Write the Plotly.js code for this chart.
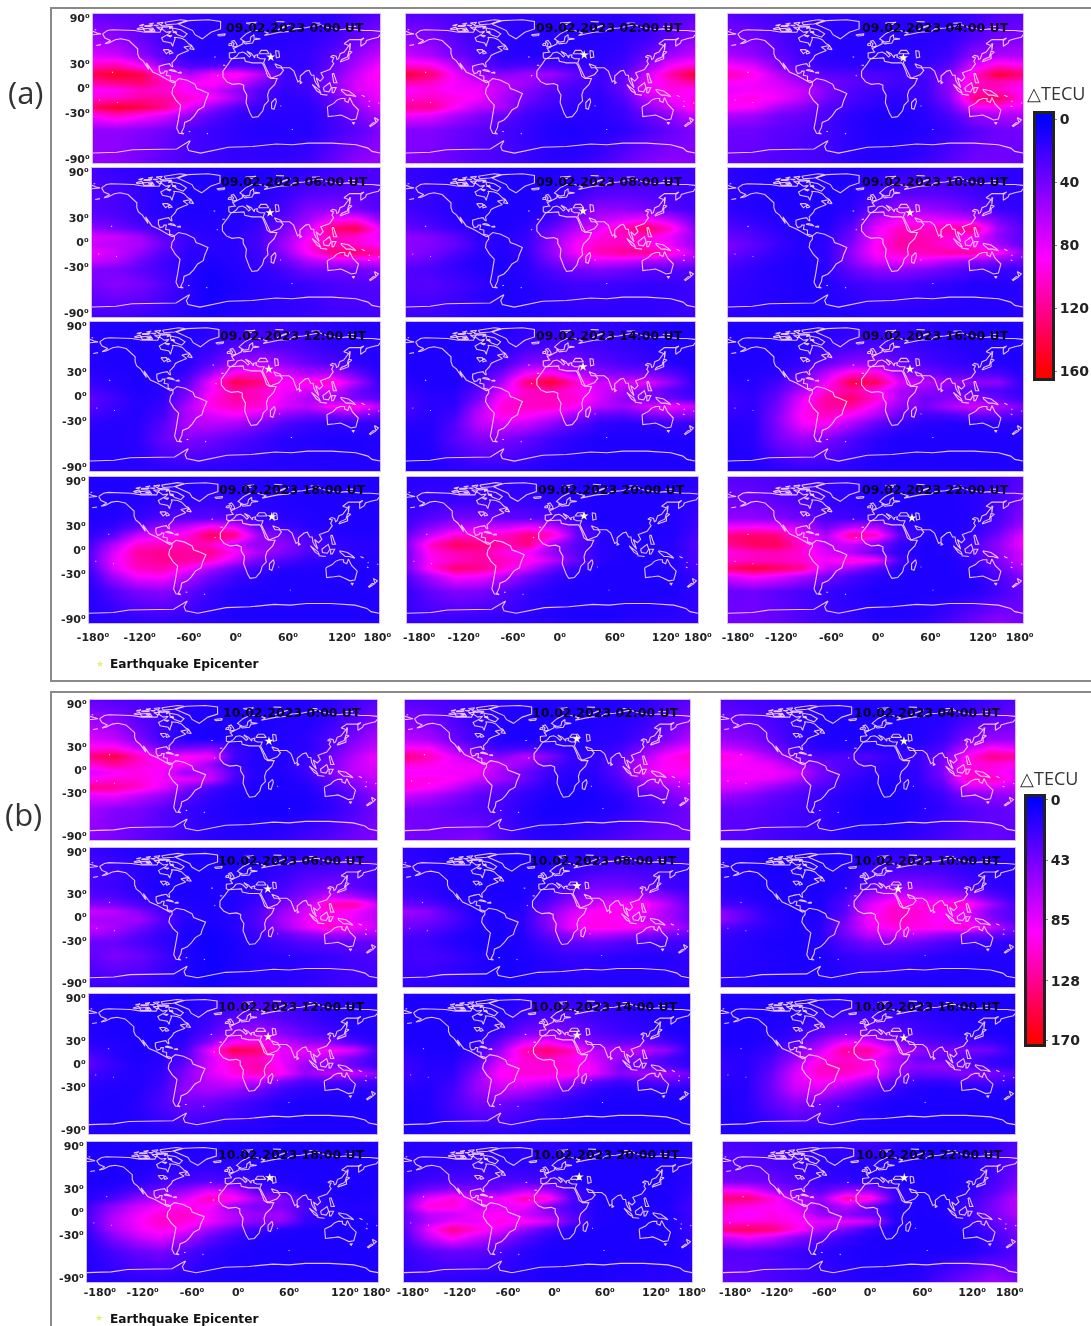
<!DOCTYPE html>
<html><head><meta charset="utf-8">
<script src="https://cdn.plot.ly/plotly-3.0.1.min.js"></script>
<style>html,body{margin:0;padding:0;background:#fff}#chart{width:1091px;height:1326px;filter:blur(0.6px)}</style>
</head><body><div id="chart"></div>
<script>
// Grid of each map. Rows run north to south.
const lons = [-180,-150,-120,-90,-60,-30,0,30,60,90,120,150,180];
const lats = [90,60,40,28,18,8,-2,-12,-22,-32,-50,-90];

const a00=[[35,30,30,25,18,15,15,15,15,15,15,22,30],[55,50,35,22,15,12,12,12,14,15,22,35,50],[75,70,50,28,15,12,12,14,16,18,30,50,70],[105,110,85,45,25,25,28,22,16,18,35,60,85],[140,150,140,85,60,85,95,65,22,22,40,70,95],[115,125,130,105,85,90,75,45,20,22,45,75,90],[85,90,105,100,85,75,50,28,18,22,45,75,85],[100,105,115,115,100,85,55,25,15,18,35,60,85],[135,150,140,120,80,50,28,18,15,15,28,50,75],[90,105,90,75,50,30,18,15,14,14,22,40,60],[50,50,45,38,25,20,15,12,12,12,22,30,45],[50,48,40,30,25,20,18,18,18,22,35,50,55]];
const a02=[[30,28,25,20,18,15,15,15,15,15,18,25,32],[50,45,30,20,15,12,12,12,12,15,22,35,50],[70,60,40,25,15,12,12,14,14,18,35,55,70],[100,95,65,35,22,25,25,20,16,22,50,85,100],[145,130,85,55,45,55,55,35,20,32,70,115,150],[115,105,85,75,65,55,40,28,20,35,80,100,115],[85,95,85,85,65,45,30,22,18,35,80,95,85],[100,105,95,85,60,40,25,20,15,28,65,85,95],[120,120,90,65,60,30,20,15,15,22,50,70,95],[85,80,60,45,35,22,15,14,14,20,35,50,70],[45,45,38,32,25,18,12,10,12,15,25,35,45],[45,42,35,28,25,20,15,15,22,35,45,50,45]];
const a04=[[30,25,22,18,15,15,15,15,15,15,20,28,30],[45,40,28,18,14,12,12,12,14,16,30,40,45],[60,50,35,22,14,12,12,14,15,22,50,60,60],[85,75,45,25,18,16,16,16,18,30,75,100,90],[110,95,65,40,30,28,28,22,25,45,100,145,130],[90,85,75,55,40,32,28,22,22,50,105,110,95],[80,85,80,70,45,28,22,18,22,50,110,105,85],[90,95,85,65,40,25,18,15,20,45,125,135,90],[90,85,60,45,30,20,14,12,15,35,85,85,80],[60,55,40,35,25,15,10,10,14,25,50,60,60],[38,38,32,28,22,15,10,10,12,18,30,38,40],[35,32,28,25,22,15,12,14,20,30,40,40,35]];
const a06=[[22,18,15,12,10,10,10,10,12,15,20,25,25],[28,25,18,12,10,10,10,12,18,28,30,30,28],[28,25,18,12,10,10,10,14,25,45,50,40,30],[35,30,20,14,12,12,12,16,32,55,85,90,50],[50,40,28,18,14,12,12,22,40,70,130,140,80],[75,70,55,28,18,14,14,25,50,85,110,100,80],[70,65,60,35,18,14,14,25,55,95,110,100,85],[80,70,50,28,16,12,14,22,50,90,125,130,115],[70,60,38,22,14,10,14,20,35,60,70,70,75],[45,42,32,22,12,8,12,16,25,40,40,40,45],[40,48,42,28,14,6,10,14,16,20,25,28,30],[22,22,20,16,12,8,12,14,16,18,22,22,22]];
const a08=[[18,15,12,10,10,10,10,12,14,18,20,20,20],[20,18,14,10,10,10,12,18,28,30,28,24,20],[22,18,12,10,10,10,15,30,50,50,42,30,22],[28,22,14,10,10,12,22,45,65,75,85,65,35],[35,28,18,12,10,15,35,60,80,110,135,100,45],[50,45,32,15,12,18,45,75,95,105,100,80,50],[48,45,35,18,12,18,50,85,105,105,95,80,50],[50,42,28,15,12,18,50,85,110,120,120,100,65],[40,32,20,12,10,15,40,60,75,70,60,55,50],[28,25,18,12,10,15,28,40,45,40,32,30,28],[28,30,25,18,10,12,18,22,22,20,18,18,22],[20,20,16,12,10,10,12,14,14,14,15,18,20]];
const a10=[[15,12,10,10,10,10,12,15,18,20,18,15,15],[15,12,10,10,10,12,20,30,30,28,22,16,15],[16,12,10,10,10,15,35,55,55,48,35,20,16],[22,16,12,10,10,22,65,85,80,75,65,40,22],[28,22,14,10,12,32,80,105,100,115,125,55,28],[35,28,18,10,14,38,85,110,110,100,85,50,30],[42,32,20,12,16,45,90,115,110,95,85,55,32],[38,28,16,12,16,50,90,105,110,115,115,90,50],[28,20,14,10,16,45,75,80,75,60,50,45,35],[22,16,12,10,14,35,50,50,45,35,25,20,20],[18,15,12,10,12,20,25,25,20,16,12,12,14],[15,14,12,10,10,10,12,12,12,12,12,12,14]];
const a12=[[12,10,10,10,10,12,15,18,18,16,14,12,12],[12,10,10,10,12,18,28,30,28,22,16,12,12],[12,10,10,10,14,30,55,62,50,35,28,16,12],[14,12,10,10,20,55,95,100,75,60,60,35,14],[18,14,10,12,30,85,140,125,85,95,105,60,18],[25,16,10,14,40,85,115,105,85,75,75,40,22],[32,22,12,16,48,95,115,105,80,60,55,40,30],[30,20,12,20,60,95,105,100,75,65,90,95,65],[22,16,12,24,60,75,85,70,48,38,40,45,35],[16,12,14,30,62,65,60,45,28,20,16,18,16],[12,12,15,35,45,40,30,22,14,12,10,10,12],[12,12,12,14,14,12,12,12,12,12,12,12,12]];
const a14=[[10,10,10,10,10,12,14,15,15,14,12,10,10],[10,10,10,10,14,22,25,25,22,18,14,10,10],[10,10,10,12,22,45,50,42,32,25,20,12,10],[10,10,10,14,40,85,95,65,48,42,40,30,12],[14,10,10,20,60,125,150,105,70,75,80,50,14],[18,12,12,30,75,105,110,95,75,60,50,30,16],[22,14,14,40,90,105,105,100,75,50,40,35,22],[24,14,16,55,100,105,105,90,65,55,75,85,70],[20,14,22,65,95,90,75,55,32,30,40,50,45],[14,12,28,65,75,70,50,32,18,14,16,20,18],[10,12,30,45,45,35,22,14,10,10,10,10,10],[10,10,12,14,14,12,10,10,10,10,10,10,10]];
const a16=[[10,10,10,10,10,12,14,15,14,12,10,10,10],[10,10,10,12,18,24,25,22,18,14,12,10,10],[10,10,12,18,35,50,50,35,25,20,14,12,10],[10,12,14,30,65,100,100,55,40,30,28,25,12],[14,12,22,45,85,140,135,75,65,55,50,50,15],[18,14,30,60,100,115,95,60,50,40,30,28,16],[22,16,35,80,115,130,100,60,38,45,50,35,20],[20,16,40,85,115,115,80,50,40,60,75,60,40],[16,16,45,90,105,85,60,35,22,25,35,35,25],[12,14,45,85,90,60,35,20,14,12,12,14,14],[10,14,40,55,45,28,15,10,10,10,10,10,10],[10,10,12,14,14,12,10,10,10,10,10,10,10]];
const a18=[[10,10,10,10,10,12,12,12,10,10,10,10,10],[10,10,12,14,16,18,16,14,12,10,10,10,10],[10,12,18,28,30,32,30,18,14,12,10,10,10],[12,18,35,55,70,95,85,35,22,14,12,10,10],[15,30,70,85,95,135,125,55,40,22,14,12,12],[22,60,100,105,110,105,70,50,50,30,18,14,14],[28,75,115,120,115,120,90,60,45,28,18,14,14],[28,80,110,120,115,105,70,40,28,18,14,12,12],[22,75,105,110,90,60,35,22,14,12,10,10,12],[16,55,85,90,65,38,22,14,10,10,10,10,12],[12,28,42,48,35,20,12,10,10,10,10,10,12],[12,12,14,14,14,12,10,10,10,10,10,10,10]];
const a20=[[14,14,14,14,14,14,14,12,10,10,10,10,14],[14,18,20,20,20,18,15,12,10,10,10,12,16],[20,30,40,40,35,32,28,14,10,10,10,12,20],[25,48,65,70,70,85,70,30,12,10,10,12,22],[35,70,100,100,105,125,105,35,14,10,10,12,25],[45,105,135,125,110,125,55,30,14,10,10,14,30],[40,95,110,115,95,85,50,30,14,10,10,12,28],[42,90,105,115,105,95,65,35,14,10,10,12,28],[40,95,130,120,100,70,35,18,10,10,10,12,26],[28,60,90,85,65,38,20,12,10,10,10,10,20],[18,35,45,42,30,18,12,10,10,10,10,10,16],[18,18,16,14,14,14,12,10,10,12,14,16,18]];
const a22=[[30,28,25,22,18,15,14,12,12,12,14,20,30],[38,38,32,25,18,15,12,10,10,10,14,22,38],[50,50,45,38,25,22,18,12,10,10,12,25,48],[85,90,85,65,40,65,65,20,12,10,14,30,60],[125,130,125,85,60,120,105,30,12,10,18,40,80],[120,135,135,100,65,70,45,18,10,12,25,50,85],[95,105,110,100,75,60,35,15,10,12,25,48,75],[100,105,105,100,85,100,85,22,10,10,20,42,75],[130,145,135,120,70,55,30,12,10,10,15,35,60],[75,90,80,60,40,25,15,10,10,10,12,25,48],[35,38,32,25,18,14,10,10,10,10,12,22,35],[40,40,35,28,22,18,12,12,15,25,40,50,40]];

const b00=[[35,30,28,22,15,12,12,12,12,12,14,22,30],[60,55,35,20,12,10,10,10,12,12,20,32,50],[80,72,48,22,12,10,10,10,12,15,28,45,65],[100,100,75,40,45,50,22,12,12,14,30,55,75],[135,150,115,80,95,90,25,12,12,18,38,65,90],[105,125,105,95,90,55,18,12,12,20,42,70,85],[80,90,100,90,55,70,30,12,12,20,45,70,80],[95,105,105,90,85,75,25,12,10,16,35,55,75],[130,125,110,85,50,28,14,10,10,12,25,42,65],[85,90,70,55,32,18,12,10,10,10,18,32,52],[60,48,45,32,20,14,10,8,8,10,16,28,42],[50,45,35,30,22,16,14,15,18,25,32,42,48]];
const b02=[[32,28,25,20,15,12,12,12,12,12,15,24,32],[50,45,30,18,12,10,10,10,12,14,20,32,50],[70,62,40,22,12,10,10,12,14,16,28,45,68],[95,95,60,35,22,25,22,14,14,22,45,70,90],[135,115,85,60,45,70,50,20,16,30,60,95,110],[105,100,90,85,70,55,30,18,18,35,75,95,100],[90,90,90,90,60,40,22,14,16,35,80,95,95],[100,100,95,75,60,40,18,12,14,28,60,75,85],[105,95,75,50,38,25,14,10,12,22,45,55,70],[75,65,50,35,28,18,10,8,10,16,30,42,60],[45,42,35,30,25,14,8,8,10,14,24,32,42],[42,42,45,50,30,18,14,18,24,30,38,42,42]];
const b04=[[30,25,22,18,14,12,12,12,12,12,15,22,30],[42,38,28,18,12,10,10,10,12,14,28,38,42],[55,50,35,20,12,10,10,12,12,20,45,55,55],[75,65,45,25,15,14,14,14,16,28,70,95,85],[105,90,65,40,28,30,30,18,20,40,95,130,125],[95,90,85,60,40,28,22,16,20,45,100,105,95],[85,90,90,80,45,28,18,14,18,45,105,100,85],[90,90,85,65,40,22,14,12,18,40,105,115,85],[80,75,55,40,28,18,12,10,14,30,75,80,70],[58,50,38,30,20,14,10,8,12,22,45,52,55],[35,35,30,25,20,12,8,8,12,18,28,35,38],[32,30,26,22,20,14,12,14,20,26,35,38,32]];
const b06=[[20,16,12,10,10,10,10,10,12,14,18,22,22],[25,22,15,10,10,10,10,12,18,25,28,28,25],[25,22,15,10,10,10,12,15,25,40,48,35,25],[32,28,18,12,10,10,12,18,32,50,75,60,40],[48,42,28,15,12,10,12,22,42,65,115,125,75],[75,70,50,25,14,10,14,28,55,80,105,90,70],[62,60,60,32,14,10,14,30,60,85,100,85,70],[72,62,45,25,12,8,14,28,55,85,110,95,75],[60,50,32,18,10,6,12,22,35,50,60,60,60],[38,38,28,18,10,6,10,16,25,32,35,35,38],[35,45,40,25,12,5,10,14,14,16,20,25,28],[20,20,18,14,10,6,10,12,14,16,20,22,20]];
const b08=[[16,14,10,10,10,10,10,12,14,16,18,18,18],[18,16,12,10,10,10,12,18,25,28,25,20,18],[20,16,12,10,10,10,14,28,45,45,40,25,20],[25,20,12,10,10,10,22,42,60,65,65,50,28],[38,32,18,10,10,12,32,58,75,90,100,70,35],[60,52,28,12,10,14,42,75,95,100,90,65,40],[48,45,30,14,10,16,48,85,100,95,80,65,40],[40,35,24,12,10,14,45,85,100,100,90,75,50],[30,26,16,10,8,12,35,55,70,60,50,42,38],[24,22,14,10,8,12,24,35,38,32,24,24,24],[24,26,22,14,8,10,15,20,18,15,14,14,18],[16,16,14,12,8,8,10,12,12,12,12,14,16]];
const b10=[[14,12,10,10,10,10,12,14,16,18,16,14,14],[14,12,10,10,10,12,20,28,28,25,18,14,14],[14,12,10,10,10,14,32,52,52,45,30,18,14],[18,14,10,10,10,22,60,80,78,70,60,35,18],[25,20,12,10,10,30,78,105,100,105,110,60,25],[50,32,14,10,10,32,85,110,105,95,85,45,28],[55,32,16,10,12,40,90,110,105,90,85,50,28],[30,22,14,10,14,45,85,100,100,100,110,75,40],[22,16,12,10,14,40,70,75,68,55,45,40,30],[18,14,10,10,12,30,45,45,40,30,22,18,16],[16,14,12,10,10,18,22,22,18,14,12,12,12],[14,12,10,10,10,10,10,10,10,10,10,10,12]];
const b12=[[12,10,10,10,10,12,16,20,20,16,14,12,12],[12,10,10,10,12,20,32,35,30,22,15,12,12],[12,10,10,10,14,30,55,65,50,35,25,14,12],[14,12,10,10,18,50,95,105,75,55,50,30,14],[20,15,10,12,25,85,150,140,85,85,95,80,25],[32,16,10,14,30,75,110,115,85,70,65,40,20],[32,20,12,16,40,80,105,120,90,55,50,38,22],[25,16,12,18,48,80,100,115,95,55,70,75,50],[18,14,12,20,50,70,80,70,45,28,30,30,25],[14,12,12,24,55,62,58,42,24,16,14,14,14],[12,10,14,28,40,38,28,20,12,10,10,10,10],[12,12,12,12,14,12,12,12,10,10,10,10,12]];
const b14=[[10,10,10,10,10,12,14,16,16,14,12,10,10],[10,10,10,10,12,22,28,28,22,18,14,10,10],[10,10,10,12,20,42,52,45,32,24,20,12,10],[10,10,10,14,38,80,95,70,45,38,38,28,12],[14,10,10,18,55,115,140,115,65,65,70,55,14],[18,12,12,28,70,105,110,100,75,55,45,25,14],[22,14,14,38,85,105,105,105,85,45,38,30,18],[22,14,16,48,95,105,105,100,85,50,60,60,40],[18,14,20,55,85,90,80,62,35,25,30,35,28],[14,12,24,55,72,68,50,32,18,12,14,14,14],[10,12,26,42,42,32,22,14,10,10,10,10,10],[10,10,12,14,14,12,10,10,10,10,10,10,10]];
const b16=[[10,10,10,10,10,12,14,14,14,12,10,10,10],[10,10,10,12,18,24,24,22,18,14,12,10,10],[10,10,12,18,35,48,45,35,25,20,14,10,10],[10,10,14,28,55,90,85,50,35,28,26,22,10],[14,12,20,42,75,125,125,80,55,45,45,40,14],[16,14,26,55,95,110,100,65,40,35,30,20,14],[18,14,30,70,110,115,105,65,50,55,35,22,16],[18,14,35,80,110,110,95,55,40,40,50,45,30],[14,14,38,80,95,85,60,35,20,20,28,28,20],[12,14,38,75,80,58,35,20,12,10,12,12,12],[10,14,32,50,40,26,15,10,10,10,10,10,10],[10,10,12,14,14,12,10,10,10,10,10,10,10]];
const b18=[[10,10,10,10,10,10,10,10,10,10,10,10,10],[10,10,10,12,14,16,14,12,10,10,10,10,10],[10,10,14,22,26,30,26,16,12,10,10,10,10],[12,16,28,42,52,80,70,30,22,12,10,10,10],[14,25,50,65,80,115,100,60,50,22,12,10,12],[22,50,75,90,100,95,55,45,45,28,14,12,14],[25,60,85,105,110,90,65,55,60,22,12,10,12],[25,65,90,110,105,90,65,50,55,20,12,10,10],[20,60,85,100,90,60,35,22,14,10,10,10,10],[15,45,70,85,65,38,20,12,10,10,10,10,10],[12,25,38,45,30,18,12,10,10,10,10,10,10],[12,12,14,14,12,10,10,10,10,10,10,10,10]];
const b20=[[14,14,14,14,12,14,18,14,10,10,10,10,14],[14,16,18,18,16,16,14,12,10,10,10,10,14],[18,24,28,30,30,28,24,12,10,10,10,10,16],[24,45,55,45,45,70,60,22,10,10,10,10,18],[40,85,105,80,90,115,105,30,12,10,10,10,22],[45,105,105,75,85,90,45,25,12,10,10,12,25],[35,70,75,90,95,75,55,30,12,10,10,10,22],[35,65,85,85,100,95,80,35,12,10,10,10,22],[30,85,130,105,85,55,28,14,10,10,10,10,20],[25,70,100,75,55,32,16,10,10,10,10,10,18],[18,30,38,35,26,15,10,10,10,10,10,10,14],[16,16,14,12,12,12,10,10,10,12,14,16,16]];
const b22=[[28,25,22,20,16,20,25,16,10,10,14,20,30],[32,32,28,22,16,14,12,10,10,10,14,22,35],[42,42,38,30,20,18,14,10,10,10,12,25,45],[95,90,60,38,32,55,55,18,10,10,14,30,55],[135,135,105,65,55,120,105,22,10,10,18,40,70],[110,100,95,80,45,70,35,14,10,12,22,45,70],[100,90,100,90,55,50,38,14,10,12,22,42,65],[100,100,105,95,85,85,75,14,10,10,18,35,55],[135,145,135,100,65,45,18,10,10,10,14,28,48],[75,90,75,50,35,20,12,10,10,10,10,22,40],[30,32,28,22,16,12,10,10,10,10,12,20,30],[38,35,28,24,20,15,12,12,15,30,45,60,45]];

const gridsA = [a00,a02,a04,a06,a08,a10,a12,a14,a16,a18,a20,a22];
const gridsB = [b00,b02,b04,b06,b08,b10,b12,b14,b16,b18,b20,b22];
const hours = ['0:00','02:00','04:00','06:00','08:00','10:00','12:00','14:00','16:00','18:00','20:00','22:00'];
const dates = ['09.02.2023','10.02.2023'];

// Epicentre as it falls in each panel
const epiLonA = [43,42,34,42.5,40.5,42,42,40.5,42,47,39,44.5];
const epiLatA = [38,40.5,37,36,38,36,33,36,33,41,42,39.5];
const epiLonB = [44.5,37,44,43,39,37,44,38,44,46,39,42];
const epiLatB = [37,40,37,37,41,37,35,37,33.5,44,45,44];

// Simplified coastlines [lon,lat]
const coasts = [
 [[-168,66],[-162,70],[-156,71],[-141,70],[-128,70],[-115,68],[-108,68],[-96,68],[-94,72],[-88,68],[-82,69],[-85,66],[-94,61],[-92,57],[-82,55],[-80,51],[-79,55],[-77,60],[-78,62],[-70,61],[-65,59],[-60,54],[-56,52],[-66,50],[-60,46],[-66,44],[-70,42],[-74,40],[-76,36],[-81,31],[-80,26],[-82,27],[-84,30],[-90,29],[-97,27],[-97,22],[-95,18],[-91,19],[-90,21],[-87,21],[-88,16],[-83,15],[-83,10],[-79,9],[-77,8],[-80,7],[-85,10],[-92,14],[-96,16],[-105,20],[-109,25],[-113,31],[-110,23],[-115,30],[-117,33],[-122,37],[-124,42],[-124,48],[-130,54],[-135,58],[-145,60],[-152,59],[-160,55],[-165,54],[-158,58],[-165,61],[-168,66]],
 [[-77,8],[-72,12],[-62,10],[-52,5],[-50,0],[-44,-2],[-35,-6],[-39,-15],[-41,-22],[-48,-26],[-53,-33],[-58,-38],[-65,-41],[-66,-47],[-69,-53],[-66,-55],[-72,-54],[-75,-48],[-73,-38],[-70,-20],[-76,-14],[-81,-6],[-80,0],[-77,4],[-77,8]],
 [[-73,78],[-60,82],[-35,83],[-20,81],[-20,72],[-32,68],[-43,60],[-52,65],[-55,70],[-68,76],[-73,78]],
 [[-80,73],[-70,71],[-62,66],[-66,62],[-74,65],[-80,70],[-80,73]],
 [[-117,72],[-105,73],[-102,69],[-115,69],[-117,72]],
 [[-90,80],[-70,83],[-62,82],[-75,78],[-88,77],[-90,80]],
 [[-125,72],[-118,74],[-116,72],[-122,71],[-125,72]],
 [[-95,76],[-80,75],[-90,74],[-95,76]],
 [[-115,76],[-105,76],[-108,75],[-115,75],[-115,76]],
 [[-100,79],[-92,80],[-95,77],[-100,79]],
 [[-100,74],[-92,74],[-95,71],[-100,74]],
 [[-122,76],[-116,77.5],[-118,76],[-122,76]],
 [[-104,76.5],[-98,76.5],[-100,75.5],[-104,76.5]],
 [[-110,78],[-104,79],[-106,77.5],[-110,78]],
 [[-87,64],[-81,64],[-83,62.5],[-87,64]],
 [[-80,68],[-76,69],[-75,67],[-80,68]],
 [[-84,74],[-80,73.5],[-84,72.5],[-84,74]],
 [[-110,71],[-104,71.5],[-106,70],[-110,71]],
 [[-59,48],[-53,47],[-56,51.5],[-59,48]],
 [[-85,22],[-75,20],[-78,22],[-82,23],[-85,22]],
 [[-74,19],[-69,18.5],[-70,19.8],[-74,19]],
 [[-92,47],[-85,47],[-84,42],[-80,43],[-83,46],[-88,42],[-92,47]],
 [[-9,37],[-9,43],[-1,44],[-4,48],[2,51],[8,54],[8,57],[11,54],[20,55],[22,59],[30,60],[22,61],[22,65],[18,62],[17,57],[12,56],[8,58],[5,60],[12,66],[20,70],[30,70],[40,67],[35,64],[44,66],[54,68],[68,69],[73,72],[85,73],[105,77],[113,74],[130,71],[140,72],[160,70],[170,70],[180,69]],
 [[-180,69],[-175,67],[-170,66],[-178,65],[-180,65]],
 [[180,65],[178,62],[170,60],[163,58],[162,55],[156,51],[156,58],[160,61],[155,59],[142,59],[135,54],[141,52],[135,44],[130,42],[128,36],[126,35],[125,39],[121,40],[118,38],[122,37],[120,33],[122,30],[117,23],[110,21],[106,19],[109,13],[105,9],[100,13],[103,4],[104,1],[100,6],[98,10],[97,16],[94,16],[91,22],[87,21],[80,15],[80,10],[77,8],[73,17],[72,21],[67,25],[57,25],[56,27],[50,30],[48,30],[51,25],[56,25],[59,22],[55,17],[45,13],[43,13],[39,21],[35,28],[34,31],[36,36],[30,36],[26,38],[27,41],[23,40],[23,37],[19,42],[13,45],[18,40],[16,38],[12,42],[8,44],[3,43],[0,39],[-5,36],[-9,37]],
 [[28,42],[31,46],[38,46],[41,42],[35,42],[28,42]],
 [[49,46],[53,45],[54,38],[50,37],[49,46]],
 [[-6,36],[10,37],[11,33],[20,31],[32,31],[34,28],[37,21],[39,15],[43,12],[51,12],[48,5],[41,-2],[39,-8],[40,-15],[35,-20],[33,-27],[27,-34],[20,-35],[17,-30],[12,-17],[13,-8],[9,-1],[9,4],[4,6],[-5,5],[-12,8],[-17,14],[-17,21],[-10,30],[-6,36]],
 [[49,-12],[50,-16],[47,-25],[44,-24],[44,-17],[49,-12]],
 [[-5,50],[1,51],[0,54],[-3,58],[-6,57],[-3,54],[-5,50]],
 [[-10,52],[-6,52],[-6,55],[-9,54],[-10,52]],
 [[-24,65],[-14,66],[-15,64],[-22,63.5],[-24,65]],
 [[12,79],[25,80],[20,77],[12,79]],
 [[52,71],[68,77],[60,75],[52,71]],
 [[50,81],[60,80.5]],[[95,79],[105,79]],[[140,75],[150,75]],[[-178,71],[-176,71]],
 [[-156,20],[-155,19]],[[-176,52],[-170,53]],[[-60,-52],[-58,-52]],[[-37,-54],[-36,-55]],[[-17,28],[-14,28]],[[-28,38],[-26,38]],[[-24,16],[-23,15]],
 [[55,-21],[56,-21]],[[70,-49],[70,-50]],[[178,-17],[179,-18]],[[165,-21],[167,-22]],[[157,-8],[161,-10]],[[166,-15],[167,-16]],[[-150,-17],[-149,-17]],[[-172,-14],[-171,-14]],
 [[130,32],[136,34],[141,36],[141,41],[145,44],[141,45],[139,38],[132,35],[130,32]],
 [[142,46],[143,54],[142,54],[142,46]],
 [[120,18],[122,18],[124,12],[126,7],[122,7],[121,13],[120,18]],
 [[109,1],[117,7],[119,1],[116,-4],[110,-3],[109,1]],
 [[95,5],[104,-2],[106,-6],[101,-3],[95,5]],
 [[105,-7],[114,-8],[110,-8],[105,-7]],
 [[120,1],[125,1],[122,-5],[120,-5],[120,1]],
 [[131,-1],[141,-3],[148,-8],[150,-10],[143,-8],[138,-8],[132,-3],[131,-1]],
 [[114,-22],[122,-18],[126,-14],[131,-12],[136,-12],[136,-15],[140,-17],[142,-11],[146,-19],[153,-26],[150,-37],[144,-38],[138,-35],[131,-32],[124,-33],[115,-34],[114,-22]],
 [[145,-41],[148,-41],[147,-43],[145,-41]],
 [[173,-35],[178,-38],[175,-41],[173,-35]],
 [[172,-41],[174,-42],[168,-46],[167,-45],[172,-41]],
 [[80,9],[82,7],[80,6],[80,9]],
 [[-180,-78],[-150,-77],[-130,-74],[-100,-73],[-75,-73],[-60,-64],[-58,-63],[-62,-70],[-60,-75],[-45,-78],[-30,-75],[-10,-71],[20,-70],[50,-67],[70,-68],[90,-66],[120,-66],[150,-68],[165,-72],[170,-76],[180,-78]]
];
const coastLon = coasts.flatMap(p => p.map(q => q[0]).concat([null]));
const coastLat = coasts.flatMap(p => p.map(q => q[1]).concat([null]));

// Colour bars
const barValuesA = [0,40,80,120,160];
const barValuesB = [0,43,85,128,170];
const colors = [[0,'#0000ff'],[0.55,'#ff00ff'],[0.75,'#ff0090'],[1,'#ff0000']];

// Tick labels
const latTicks = [85,30,0,-30,-85];
const latLabels = ['90⁰','30⁰','0⁰','-30⁰','-90⁰'];
const lonLabels = ['-180⁰','-120⁰','-60⁰','0⁰','60⁰','120⁰','180⁰'];
const lonTicksA = [[-175,-117,-56,2,67,134,178],[-165,-110,-49,9,77,140,180],[-168,-115,-54,3,67,131,176]];
const lonTicksB = [[-164,-111,-50,7,70,139,178],[-169,-110,-50,8,71,135,180],[-165,-114,-56,0,64,125,171]];

// Panel rectangles in page pixels: x0,x1,y0,y1
const rectsA = [[93,380,14,163],[406,695,14,163],[728,1023,14,163],[92,380,168,317],[406,695,168,317],[728,1023,168,317],[90,380,322,471],[406,695,322,471],[728,1023,322,471],[89,379,477,623],[407,698,477,623],[728,1023,477,623]];
const rectsB = [[90,377,700,840],[405,690,700,840],[721,1015,700,840],[90,377,848,987],[403,689,848,987],[721,1015,848,987],[89,377,994,1134],[404,690,994,1134],[721,1015,994,1134],[87,378,1142,1282],[404,692,1142,1282],[723,1017,1142,1282]];

const W = 1091, H = 1326;
const dx = (a,b) => [a/W,b/W];
const dy = (a,b) => [1-b/H,1-a/H];
const tickFont = {family:'DejaVu Sans', size:11, color:'#222', weight:700};

const traces = [], layout = {
  width:W, height:H, margin:{l:0,r:0,t:0,b:0}, paper_bgcolor:'#fff', plot_bgcolor:'#fff',
  showlegend:false, annotations:[], shapes:[]
};
const latAsc = lats.slice().reverse();
let n = 0;

function addPanel(grid, rect, idx, zmax, dateStr, epiLon, epiLat, lonTicks){
  n++;
  const xn = 'x'+(n===1?'':n), yn = 'y'+(n===1?'':n);
  const xk = 'xaxis'+(n===1?'':n), yk = 'yaxis'+(n===1?'':n);
  const col = idx%3, row = Math.floor(idx/3);
  traces.push({type:'heatmap', x:lons, y:latAsc, z:grid.slice().reverse(), zmin:0, zmax:zmax,
    colorscale:colors, zsmooth:'best', showscale:false, xaxis:xn, yaxis:yn, hoverinfo:'skip'});
  traces.push({type:'scatter', mode:'lines', x:coastLon, y:coastLat, xaxis:xn, yaxis:yn,
    line:{color:'rgba(255,215,255,0.9)', width:1.1}, hoverinfo:'skip', connectgaps:false});
  traces.push({type:'scatter', mode:'markers', x:[epiLon[idx]], y:[epiLat[idx]], xaxis:xn, yaxis:yn,
    marker:{symbol:'star', size:7, color:'#fffbc0'}, hoverinfo:'skip'});
  layout[xk] = {domain:dx(rect[0],rect[1]), range:[-180,180], anchor:yn, showgrid:false, zeroline:false,
    showline:true, mirror:true, linecolor:'#d8b8ff', linewidth:1, ticks:'',
    showticklabels: row===3, tickmode:'array', tickvals:lonTicks[col], ticktext:lonLabels,
    tickfont:tickFont, tickangle:0, ticklabelstandoff: zmax===160 ? 4 : 0};
  layout[yk] = {domain:dy(rect[2],rect[3]), range:[-90,90], anchor:xn, showgrid:false, zeroline:false,
    showline:true, mirror:true, linecolor:'#d8b8ff', linewidth:1, ticks:'',
    showticklabels: col===0, tickmode:'array', tickvals:latTicks, ticktext:latLabels, tickfont:tickFont};
  layout.annotations.push({xref:xn, yref:yn, x:73, y:74, xanchor:'center', yanchor:'middle', showarrow:false,
    text:dateStr+' '+hours[idx]+' UT', font:{family:'DejaVu Sans', size:12.5, color:'#08001e', weight:700}});
}
gridsA.forEach((g,i)=>addPanel(g,rectsA[i],i,160,dates[0],epiLonA,epiLatA,lonTicksA));
gridsB.forEach((g,i)=>addPanel(g,rectsB[i],i,170,dates[1],epiLonB,epiLatB,lonTicksB));

function addBar(values, x0,x1,y0,y1, lo, hi){
  n++;
  const xn='x'+n, yn='y'+n, xk='xaxis'+n, yk='yaxis'+n;
  traces.push({type:'heatmap', x:[0,1], y:values, z:values.map(v=>[v,v]), zmin:0, zmax:values[values.length-1],
    colorscale:colors, zsmooth:'best', showscale:false, xaxis:xn, yaxis:yn, hoverinfo:'skip'});
  layout[xk] = {domain:dx(x0,x1), range:[0,1], anchor:yn, showgrid:false, zeroline:false, showticklabels:false, ticks:'',
    showline:true, mirror:true, linecolor:'#222', linewidth:3};
  layout[yk] = {domain:dy(y0,y1), range:[hi,lo], anchor:xn, side:'right', showgrid:false, zeroline:false,
    tickmode:'array', tickvals:values, ticktext:values.map(String), ticks:'outside', ticklen:2, tickcolor:'#888',
    tickfont:{family:'DejaVu Sans', size:14, color:'#222', weight:700},
    showline:true, mirror:true, linecolor:'#222', linewidth:3};
}
addBar(barValuesA,1036,1052,114,378,-3.2,164.4);
addBar(barValuesB,1027,1043,797,1044,-2,172.8);

function pageText(text,x,y,font,anchor){
  layout.annotations.push({xref:'paper',yref:'paper',x:x/W,y:1-y/H,xanchor:anchor||'left',yanchor:'middle',
    showarrow:false,text:text,font:font});
}
const bigFont = {family:'Open Sans', size:31, color:'#333'};
const unitFont = {family:'Open Sans', size:18, color:'#333'};
const legendFont = {family:'DejaVu Sans', size:12.2, color:'#111', weight:700};
pageText('(a)',6,92,bigFont);
pageText('(b)',3,814,bigFont);
pageText('△TECU',1025,93,unitFont);
pageText('△TECU',1018,778,unitFont);
pageText('Earthquake Epicenter',108,664,legendFont);
pageText('Earthquake Epicenter',108,1319,legendFont);
pageText('★',94,664,{family:'DejaVu Sans', size:9, color:'#e8ec80'});
pageText('★',93,1318,{family:'DejaVu Sans', size:9, color:'#e8ec80'});

const frame = (a,b,c,d)=>({type:'rect',xref:'paper',yref:'paper',x0:a/W,x1:b/W,y0:1-d/H,y1:1-c/H,
  line:{color:'#8a8a8a',width:2},fillcolor:'rgba(0,0,0,0)',layer:'below'});
layout.shapes.push(frame(51,1100,8,681));
layout.shapes.push(frame(51,1100,692,1340));

Plotly.newPlot('chart',traces,layout,{displayModeBar:false,staticPlot:true});
</script>
</body></html>
